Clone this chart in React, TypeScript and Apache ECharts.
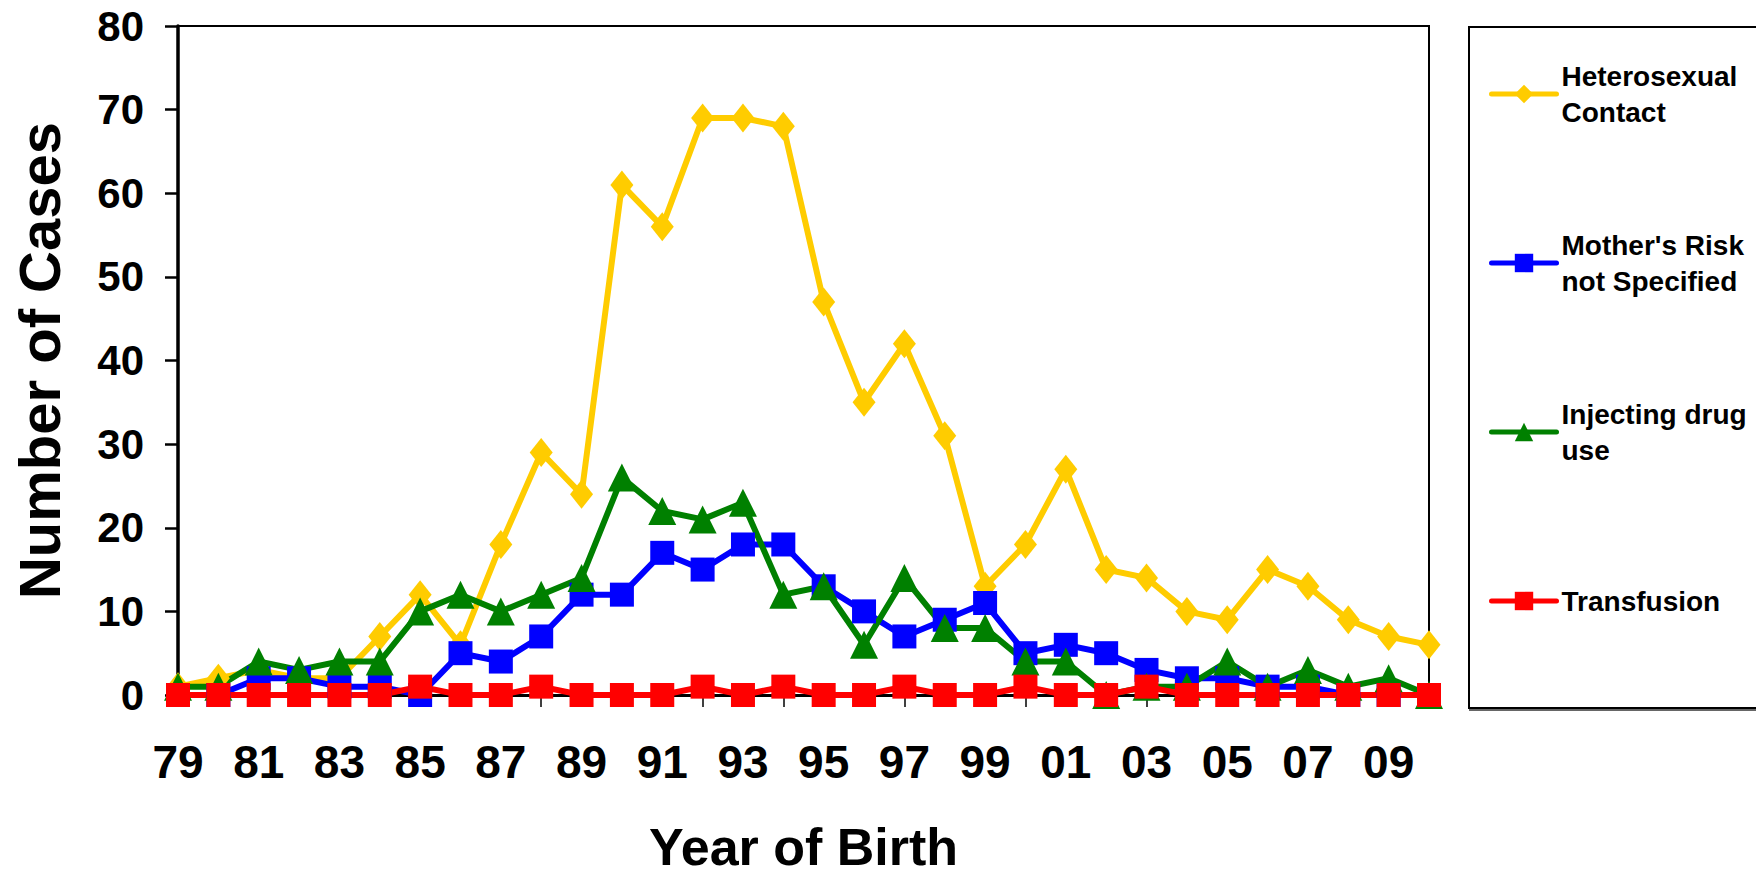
import React, { useEffect, useRef } from 'react';
import * as echarts from 'echarts';

const years = ['79','80','81','82','83','84','85','86','87','88','89','90','91','92','93','94','95','96','97','98','99','00','01','02','03','04','05','06','07','08','09','10'];
const heterosexual = [1,2,3,2,2,7,12,6,18,29,24,61,56,69,69,68,47,35,42,31,13,18,27,15,14,10,9,15,13,9,7,6];
const motherRisk = [0,0,2,2,1,1,0,5,4,7,12,12,17,15,18,18,13,10,7,9,11,5,6,5,3,2,2,1,1,0,0,0];
const drugUse = [1,1,4,3,4,4,10,12,10,12,14,26,22,21,23,12,13,6,14,8,8,4,4,0,1,1,4,1,3,1,2,0];
const transfusion = [0,0,0,0,0,0,1,0,0,1,0,0,0,1,0,1,0,0,1,0,0,1,0,0,1,0,0,0,0,0,0,0];

const seriesNames = ['Heterosexual Contact', "Mother's Risk not Specified", 'Injecting drug use', 'Transfusion'];
const legendLabels = ['Heterosexual\nContact', "Mother's Risk\nnot Specified", 'Injecting drug\nuse', 'Transfusion'];

const FONT = '"Liberation Sans", Arial, Helvetica, sans-serif';

export default function App() {
  const ref = useRef<HTMLDivElement>(null);
  useEffect(() => {
    if (!ref.current) return;
    const chart = echarts.init(ref.current, undefined, { renderer: 'svg' });
    const mk = (name: string, data: number[], color: string, symbol: string, size: any) => ({
      name,
      type: 'line',
      data,
      symbol,
      symbolSize: size,
      showSymbol: true,
      showAllSymbol: true,
      itemStyle: { color, borderWidth: 0 },
      lineStyle: { color, width: 6, cap: 'round', join: 'round' },
      emphasis: { disabled: true },
    });
    chart.setOption({
      animation: false,
      backgroundColor: '#ffffff',
      textStyle: { fontFamily: FONT },
      graphic: [
        {
          type: 'rect',
          z: 0,
          shape: { x: 1469, y: 27, width: 310, height: 681 },
          style: { fill: '#ffffff', stroke: '#000000', lineWidth: 2, shadowColor: 'rgba(0,0,0,0.6)', shadowOffsetX: 1, shadowOffsetY: 2, shadowBlur: 0 },
        },
      ],
      grid: {
        left: 178,
        right: 327,
        top: 26,
        bottom: 176,
        show: true,
        borderColor: '#000000',
        borderWidth: 2,
        backgroundColor: 'transparent',
      },
      legend: {
        orient: 'vertical',
        left: 1489,
        top: 40,
        padding: 0,
        itemWidth: 65,
        itemHeight: 23,
        itemGap: 61,
        selectedMode: false,
        lineStyle: { width: 5, cap: 'round' },
        formatter: (n: string) => legendLabels[seriesNames.indexOf(n)],
        textStyle: {
          fontFamily: FONT,
          fontSize: 28,
          fontWeight: 'bold',
          color: '#000000',
          lineHeight: 36,
          padding: [36, 0, 0, 0],
        },
        data: [
          { name: seriesNames[0] },
          { name: seriesNames[1] },
          { name: seriesNames[2] },
          { name: seriesNames[3], textStyle: { padding: [36, 0, 36, 0] } },
        ],
      },
      xAxis: {
        type: 'category',
        data: years,
        boundaryGap: false,
        name: 'Year of Birth',
        nameLocation: 'middle',
        nameGap: 126,
        nameTextStyle: { fontFamily: FONT, fontSize: 52, fontWeight: 'bold', color: '#000000' },
        axisLine: { show: true, lineStyle: { color: '#000000', width: 3 } },
        axisTick: { show: true, alignWithLabel: true, interval: 0, length: 12, lineStyle: { color: '#000000', width: 1.5 } },
        axisLabel: { interval: 1, margin: 44, fontFamily: FONT, fontSize: 46, fontWeight: 'bold', color: '#000000' },
        splitLine: { show: false },
      },
      yAxis: {
        type: 'value',
        min: 0,
        max: 80,
        interval: 10,
        name: 'Number of Cases',
        nameLocation: 'middle',
        nameGap: 110,
        nameTextStyle: { fontFamily: FONT, fontSize: 58, fontWeight: 'bold', color: '#000000' },
        axisLine: { show: true, lineStyle: { color: '#000000', width: 3.5 } },
        axisTick: { show: true, length: 13, lineStyle: { color: '#000000', width: 2.5 } },
        axisLabel: { margin: 34, fontFamily: FONT, fontSize: 42, fontWeight: 'bold', color: '#000000' },
        splitLine: { show: false },
      },
      series: [
        mk(seriesNames[0], heterosexual, '#FFCC00', 'diamond', [23, 29]),
        mk(seriesNames[1], motherRisk, '#0000FF', 'rect', 24),
        mk(seriesNames[2], drugUse, '#008000', 'triangle', 28),
        mk(seriesNames[3], transfusion, '#FF0000', 'rect', 24),
      ],
    });
    return () => chart.dispose();
  }, []);
  return <div ref={ref} style={{ position: 'absolute', left: 0, top: 0, width: 1756, height: 878 }} />;
}
